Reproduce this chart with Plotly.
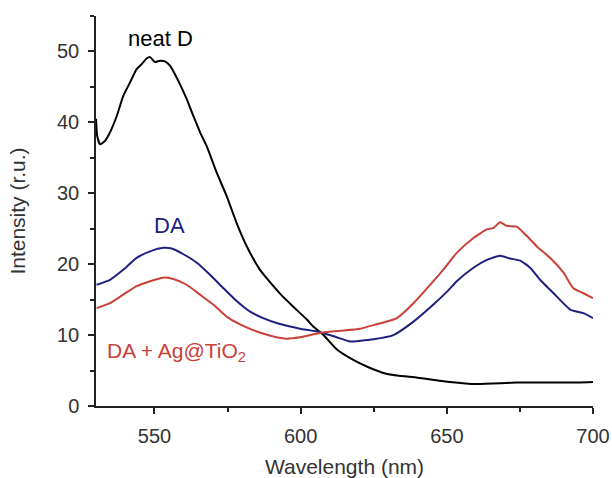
import plotly.graph_objects as go

# neat D
wl_d = [530.0, 530.4, 531.4, 533.1, 534.8, 537.1, 539.3, 541.6, 543.9, 545.6, 547.3, 548.5,
        550.2, 551.9, 553.6, 555.3, 557.0, 558.7, 561.0, 563.3, 565.6, 567.9, 571.3, 574.7,
        578.1, 581.6, 586.1, 590.7, 593.5, 597.5, 602.1, 604.3, 607.8, 612.3, 618.0, 623.0,
        628.0, 633.0, 640.0, 651.0, 660.0, 674.0, 691.0, 700.0]
int_d = [40.5, 38.1, 36.9, 37.4, 38.6, 40.9, 43.7, 45.6, 47.5, 48.2, 49.0, 49.2,
         48.5, 48.7, 48.6, 48.0, 46.8, 45.4, 43.3, 40.9, 38.6, 36.6, 32.9, 29.6,
         25.8, 22.5, 19.2, 16.9, 15.6, 14.0, 12.2, 11.2, 10.0, 8.0, 6.5, 5.5,
         4.7, 4.3, 4.0, 3.4, 3.1, 3.3, 3.3, 3.4]

# DA
wl_da = [530.2, 534.8, 539.3, 543.9, 548.5, 553.0, 555.9, 559.9, 564.5, 569.0, 573.6, 578.1,
         582.7, 587.2, 591.8, 596.4, 599.8, 606.6, 612.3, 616.9, 620.5, 624.9, 631.7, 638.6,
         645.4, 650.5, 653.4, 659.1, 663.7, 668.2, 671.6, 675.1, 678.5, 681.9, 686.5, 692.2,
         696.7, 700.0]
int_da = [17.1, 17.8, 19.2, 20.9, 21.8, 22.3, 22.2, 21.4, 20.2, 18.5, 16.6, 14.8,
          13.3, 12.4, 11.7, 11.2, 10.9, 10.4, 9.7, 9.1, 9.2, 9.4, 10.0, 11.9,
          14.3, 16.3, 17.6, 19.5, 20.6, 21.2, 20.8, 20.5, 19.5, 17.8, 15.9, 13.6,
          13.1, 12.4]

# DA + Ag@TiO2
wl_ag = [530.2, 534.8, 539.3, 543.9, 548.5, 553.0, 556.4, 561.0, 565.6, 570.1, 574.7, 579.3,
         585.0, 590.7, 595.2, 599.8, 606.6, 613.5, 620.3, 624.9, 632.9, 638.6, 645.4, 649.5,
         653.4, 659.1, 663.7, 665.9, 668.2, 670.5, 673.9, 677.3, 680.8, 685.3, 689.9, 693.3,
         696.7, 700.0]
int_ag = [13.8, 14.5, 15.7, 16.9, 17.6, 18.1, 17.9, 17.1, 15.7, 14.3, 12.6, 11.5,
          10.5, 9.8, 9.5, 9.7, 10.3, 10.6, 10.9, 11.4, 12.4, 14.5, 17.6, 19.6,
          21.6, 23.7, 24.9, 25.1, 25.9, 25.4, 25.3, 24.0, 22.5, 20.9, 18.8, 16.6,
          15.9, 15.2]

BLACK = "#000000"
BLUE = "#20207e"
RED = "#c8413a"

fig = go.Figure()
for xs, ys, col in [(wl_d, int_d, BLACK), (wl_da, int_da, BLUE), (wl_ag, int_ag, RED)]:
    fig.add_trace(go.Scatter(x=xs, y=ys, mode="lines",
                             line=dict(color=col, width=2, shape="spline", smoothing=0.5),
                             showlegend=False))

font_fam = "Liberation Sans, Arial, sans-serif"

fig.add_annotation(x=552.2, y=51.8, text="neat D", showarrow=False,
                   font=dict(family=font_fam, size=22, color=BLACK))
fig.add_annotation(x=555.0, y=25.4, text="DA", showarrow=False,
                   font=dict(family=font_fam, size=22, color=BLUE))
fig.add_annotation(x=533.0, y=7.6, text="DA + Ag@TiO<sub>2</sub>", showarrow=False, xanchor="left",
                   font=dict(family=font_fam, size=21, color=RED))

axis_common = dict(
    showline=True, linecolor="#222222", linewidth=1.5,
    ticks="outside", ticklen=6, tickwidth=1.5, tickcolor="#222222",
    showgrid=False, zeroline=False, mirror=False, automargin=False,
    ticklabelstandoff=5,
    tickfont=dict(family=font_fam, size=20, color="#333333"),
)

fig.update_xaxes(range=[530, 700], tick0=500, dtick=50,
                 minor=dict(ticks="outside", ticklen=4, tickwidth=1.5, tickcolor="#222222", dtick=25, tick0=500),
                 title=dict(text="Wavelength (nm)", font=dict(family=font_fam, size=21, color="#333333"), standoff=14),
                 **axis_common)
fig.update_yaxes(range=[0, 55], tick0=0, dtick=10,
                 minor=dict(ticks="outside", ticklen=4, tickwidth=1.5, tickcolor="#222222", dtick=5, tick0=0),
                 title=dict(text="Intensity (r.u.)", font=dict(family=font_fam, size=21, color="#333333"), standoff=26),
                 **axis_common)

fig.update_layout(
    width=612, height=478,
    margin=dict(l=96, r=19, t=16, b=72),
    plot_bgcolor="white", paper_bgcolor="white",
)

fig.write_html("out.html",
               config={"displayModeBar": False},
               post_script="document.body.style.margin='0';document.body.style.overflow='hidden';")
